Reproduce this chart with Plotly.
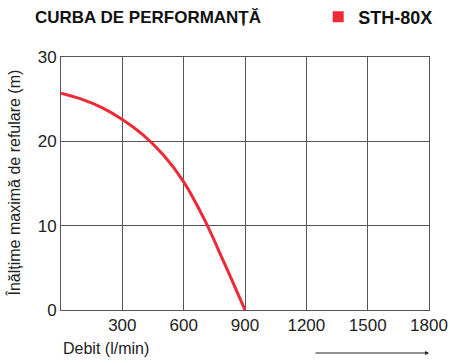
import plotly.graph_objects as go

flow = [0, 100, 200, 300, 400, 500, 600, 700, 800, 900]
head = [25.7, 25.0, 24.0, 22.6, 20.8, 18.4, 15.2, 10.8, 5.5, 0.0]
x_ticks = [300, 600, 900, 1200, 1500, 1800]
y_ticks = [0, 10, 20, 30]
series_name = "STH-80X"

RED = "#ee2a35"
GRID = "#555555"
FONT = "Liberation Sans"
TXT = "#222222"

fig = go.Figure()
fig.add_trace(go.Scatter(x=flow, y=head, mode="lines", line=dict(color=RED, width=3, shape="spline", smoothing=1),
                         showlegend=False, hoverinfo="skip"))
fig.add_trace(go.Scatter(x=[None], y=[None], mode="markers", name=series_name,
                         marker=dict(symbol="square", size=11, color=RED)))

fig.update_layout(
    width=450, height=364,
    margin=dict(l=61, r=21, t=57, b=54),
    paper_bgcolor="white", plot_bgcolor="white",
    title=dict(text="<b>CURBA DE PERFORMANȚĂ</b>", x=35/450, xanchor="left", y=1-17/364, yanchor="middle",
               font=dict(family=FONT, size=17, color="#111111")),
    legend=dict(x=1.025, xanchor="right", y=1-17/364, yref="container", yanchor="middle",
                font=dict(family=FONT, size=18, color="#111111", weight="bold"), bgcolor="rgba(0,0,0,0)"),
    xaxis=dict(range=[0, 1800], tickvals=x_ticks, ticktext=[str(v) for v in x_ticks],
               showgrid=True, gridcolor=GRID, gridwidth=1, showline=True, linecolor=GRID, linewidth=1,
               mirror=True, zeroline=False, ticks="", tickfont=dict(family=FONT, size=17, color=TXT),
               automargin=False, fixedrange=True),
    yaxis=dict(range=[0, 30], tickvals=y_ticks, showgrid=True, gridcolor=GRID, gridwidth=1,
               showline=True, linecolor=GRID, linewidth=1, mirror=True, zeroline=False, ticks="",
               tickfont=dict(family=FONT, size=17, color=TXT), automargin=False, fixedrange=True),
)

fig.add_annotation(text="Înălțime maximă de refulare (m)", xref="paper", yref="paper", x=-48/368, y=0.5,
                   xanchor="center", yanchor="middle", textangle=-90, showarrow=False,
                   font=dict(family=FONT, size=16, color=TXT))
fig.add_annotation(text="Debit (l/min)", xref="paper", yref="paper", x=0, y=-38/253, xanchor="left",
                   yanchor="middle", showarrow=False, font=dict(family=FONT, size=16, color=TXT))
fig.add_annotation(text="", xref="paper", yref="paper", x=1.0, y=-43/253, ax=-115, ay=0,
                   showarrow=True, arrowhead=2, arrowsize=0.8, arrowwidth=1, arrowcolor=TXT)

fig.write_html("out.html", config={"displayModeBar": False},
               post_script="document.body.style.margin='0';")
